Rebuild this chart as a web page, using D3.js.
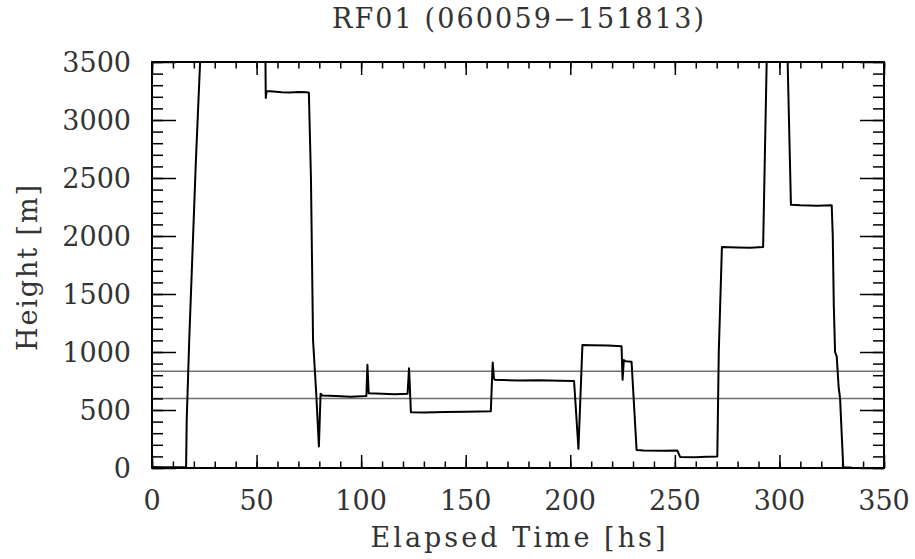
<!DOCTYPE html>
<html>
<head>
<meta charset="utf-8">
<script src="https://cdn.jsdelivr.net/npm/d3@7"></script>
<style>
  html, body { margin: 0; padding: 0; background: #fff; }
  svg { display: block; }
  text { font-family: "DejaVu Serif", serif; fill: #333; }
</style>
</head>
<body>
<div id="chart"></div>
<script>
// flight track, elapsed time [hs] vs height [m]; null = out of the plotted range
const times = [0, 5, 10, 15, 16.3, 16.6, 17.8, 21, 23, 23.4, null,
  54.2, 54.4, 54.8, 58, 62, 66, 70, 74, 75, 76, 77, 78.5, 79.8, 80.6, 81.5, 88, 95, 102.5,
  103, 103.6, 110, 116, 122.2, 122.9, 123.8, 130, 140, 150, 162, 162.9, 163.5, 164, 175,
  185, 195, 201.8, 203.9, 205.8, 210, 218, 224.5, 225, 225.6, 226.5, 229.3, 231.7, 235,
  245, 251.2, 252.5, 260, 265, 270.3, 271, 272.5, 280, 286, 292.2, 293.9, 294.2, null,
  303.8, 305.5, 310, 318, 325, 325.5, 326, 326.6, 327.4, 328.3, 329, 330.5, 331, 334.5];
const heights = [8, 6, 7, 6, 5, 414, 1103, 2655, 3500, 3600, null,
  3600, 3190, 3250, 3245, 3240, 3238, 3242, 3240, 3235, 2500, 1103, 650, 185, 640, 625, 620, 615, 620,
  890, 645, 640, 635, 640, 860, 480, 478, 482, 485, 490, 910, 770, 760, 755,
  757, 752, 750, 165, 1060, 1058, 1055, 1050, 760, 930, 920, 915, 155, 150,
  148, 150, 95, 92, 98, 100, 1000, 1905, 1900, 1898, 1905, 3500, 3600, null,
  3600, 2270, 2265, 2260, 2265, 2000, 1400, 1000, 960, 700, 600, 10, 5, 5];

// horizontal reference levels
const refLevels = [600, 835];

const xMajor = [0, 50, 100, 150, 200, 250, 300, 350];
const yMajor = [0, 500, 1000, 1500, 2000, 2500, 3000, 3500];

const titleText = "RF01 (060059\u2212151813)";
const xTitle = "Elapsed Time [hs]";
const yTitle = "Height [m]";

const width = 915, height = 559;
const margin = { top: 62, right: 31, bottom: 91, left: 152 };
const innerWidth = width - margin.left - margin.right;
const innerHeight = height - margin.top - margin.bottom;

const svg = d3.select("#chart").append("svg")
  .attr("width", width)
  .attr("height", height);

const g = svg.append("g")
  .attr("transform", `translate(${margin.left}, ${margin.top})`);

const x = d3.scaleLinear().domain([0, 350]).range([0, innerWidth]);
const y = d3.scaleLinear().domain([0, 3500]).range([innerHeight, 0]);

const xMinor = d3.range(0, 351, 10);
const yMinor = d3.range(0, 3501, 100);

// clip for the data
g.append("clipPath").attr("id", "clip")
  .append("rect").attr("width", innerWidth).attr("height", innerHeight);

// reference lines
g.selectAll(".ref")
  .data(refLevels)
  .join("line")
  .attr("class", "ref")
  .attr("x1", 0).attr("x2", innerWidth)
  .attr("y1", d => y(d)).attr("y2", d => y(d))
  .attr("stroke", "#707070")
  .attr("stroke-width", 1.5);

// the track
const pts = times.map((t, i) => ({ t: t, h: heights[i] }));
const line = d3.line()
  .defined(d => d.t !== null && d.h !== null)
  .x(d => x(d.t))
  .y(d => y(d.h));

g.append("path")
  .datum(pts)
  .attr("clip-path", "url(#clip)")
  .attr("d", line)
  .attr("fill", "none")
  .attr("stroke", "#000")
  .attr("stroke-width", 2)
  .attr("stroke-linejoin", "round");

// ticks, all pointing inward (no labels here)
function ticks(axis, vals, size, tr) {
  const a = g.append("g")
    .attr("transform", tr)
    .call(axis.tickValues(vals).tickSizeInner(-size).tickSizeOuter(0).tickFormat(""));
  a.select(".domain").remove();
  a.selectAll("text").remove();
  a.selectAll("line").attr("stroke", "#000").attr("stroke-width", 1.5);
  return a;
}
ticks(d3.axisBottom(x), xMinor, 6.5, `translate(0, ${innerHeight})`);
ticks(d3.axisBottom(x), xMajor, 13, `translate(0, ${innerHeight})`);
ticks(d3.axisTop(x), xMinor, 6.5, "translate(0, 0)");
ticks(d3.axisTop(x), xMajor, 13, "translate(0, 0)");
ticks(d3.axisLeft(y), yMinor, 11, "translate(0, 0)");
ticks(d3.axisLeft(y), yMajor, 24, "translate(0, 0)");
ticks(d3.axisRight(y), yMinor, 11, `translate(${innerWidth}, 0)`);
ticks(d3.axisRight(y), yMajor, 24, `translate(${innerWidth}, 0)`);

// tick labels
g.append("g").selectAll("text")
  .data(xMajor)
  .join("text")
  .attr("x", d => x(d))
  .attr("y", innerHeight + 42)
  .attr("text-anchor", "middle")
  .attr("font-size", 27)
  .text(d => d);

g.append("g").selectAll("text")
  .data(yMajor)
  .join("text")
  .attr("x", -21)
  .attr("y", d => y(d) + 10)
  .attr("text-anchor", "end")
  .attr("font-size", 27)
  .text(d => d);

// frame
g.append("rect")
  .attr("width", innerWidth).attr("height", innerHeight)
  .attr("fill", "none").attr("stroke", "#000").attr("stroke-width", 2);

// titles
svg.append("text")
  .attr("x", margin.left + innerWidth / 2)
  .attr("y", 28)
  .attr("text-anchor", "middle")
  .attr("font-size", 27)
  .attr("textLength", 372)
  .attr("lengthAdjust", "spacing")
  .text(titleText);

svg.append("text")
  .attr("x", margin.left + innerWidth / 2)
  .attr("y", 547)
  .attr("text-anchor", "middle")
  .attr("font-size", 27)
  .attr("textLength", 295)
  .attr("lengthAdjust", "spacing")
  .text(xTitle);

svg.append("text")
  .attr("transform", "rotate(-90)")
  .attr("x", -(margin.top + innerHeight / 2 + 3))
  .attr("y", 37)
  .attr("text-anchor", "middle")
  .attr("font-size", 27)
  .attr("textLength", 166)
  .attr("lengthAdjust", "spacing")
  .text(yTitle);
</script>
</body>
</html>
